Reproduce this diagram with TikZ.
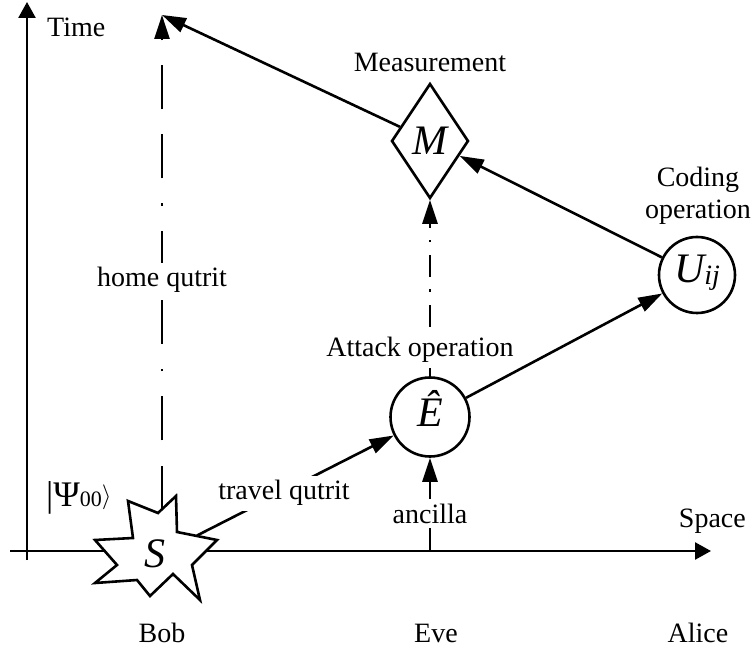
\documentclass[tikz,border=0pt]{standalone}
\usepackage{fontspec}
\setmainfont{Liberation Serif}
\usepackage{tikz}
\usetikzlibrary{arrows.meta,positioning,shapes.geometric}
\newcommand{\txtf}{\fontsize{28}{32}\selectfont}
\newcommand{\symf}{\fontsize{42}{46}\selectfont\itshape}
\tikzset{
  ax/.style={line width=2.6pt, -{Triangle[length=16pt,width=17pt]}},
  ar/.style={line width=2.6pt, -{Triangle[length=24pt,width=15pt]}},
  opc/.style={draw, circle, line width=2.6pt, fill=white, inner sep=0pt, font=\symf, text height=28pt, text depth=0pt},
  opd/.style={draw, diamond, line width=2.6pt, fill=white, inner sep=0pt, font=\symf, text height=28pt, text depth=0pt, minimum width=77pt, minimum height=115pt},
  lbl/.style={font=\txtf, inner sep=0pt},
  lblw/.style={lbl, fill=white, inner sep=5pt},
  homedash/.style={dash pattern=on 44pt off 25pt on 44pt off 25pt on 2.5pt off 25pt},
  dashdot/.style={dash pattern=on 22pt off 13pt on 2.5pt off 12pt},
}
\begin{document}
\begin{tikzpicture}[x=1pt, y=-1pt]
        \useasboundingbox (0,0) rectangle (753,652);
        \coordinate (o1) at (27,560);
        \coordinate (tend) at (27,2);
        \coordinate (o2) at (10,551);
        \coordinate (send) at (711,551);
        \coordinate (eax) at (430,551);
        \coordinate (top) at (162,15);
        \draw[ax] (o1) -- (tend);
        \draw[ax] (o2) -- (send);
        \draw[line width=2.6pt, fill=white] (128,501) -- (158,513) -- (176,496) -- (177,532) -- (217,540) -- (192,565) -- (200,600)
          -- (173,574) -- (150,596) -- (137,580) -- (95,583) -- (117,565) -- (95,540) -- (133,538) -- cycle;
        \node[font=\symf, inner sep=0pt, text height=28pt, text depth=0pt] (S) at (155,553) {S};
        \coordinate (Stop) at (162,509.5);
        \coordinate (Sr) at (197,535.5);
        \node[opc, minimum size=79pt, text depth=8pt] (E) at (430,417) {Ê};
        \node[opc, minimum size=76pt, text depth=12pt] (U) at (697,275) {U\raisebox{-2pt}{\txtf ij}};
        \node[opd] (M) at (430,141) {M};
        \draw[ar, homedash] (Stop) -- (top);
        \draw[ar] (Sr) -- (E);
        \draw[ar] (eax) -- (E);
        \draw[ar, dashdot] (E) -- (M);
        \draw[ar] (E) -- (U);
        \draw[ar] (U) -- (M);
        \draw[ar] (M) -- (top);
        \node[lbl, anchor=base west] (time) at (47,37) {Time};
        \node[lbl, anchor=base east] (space) at (746,527) {Space};
        \node[lbl, anchor=base] (bob) at (162,642) {Bob};
        \node[lbl, anchor=base] (eve) at (436,642) {Eve};
        \node[lbl, anchor=base] (alice) at (698,642) {Alice};
        \node[lbl, anchor=base west, font=\fontsize{36}{40}\selectfont] (psi) at (46,507)
          {|Ψ{\fontsize{22}{22}\selectfont 00}\raisebox{3pt}{\fontsize{32}{32}\selectfont$\rangle$}};
        \node[lbl, anchor=base] (meas) at (430,72) {Measurement};
        \node[lblw, anchor=base] (att) at (420,357) {Attack operation};
        \node[lbl, align=center] (cod) at (698,195.5) {Coding\\operation};
        \node[lblw, anchor=base] (home) at (162,287) {home qutrit};
        \node[lblw, anchor=base] (trav) at (284,500) {travel qutrit};
        \node[lblw, anchor=base] (anc) at (430,523) {ancilla};
      \end{tikzpicture}
\end{document}
